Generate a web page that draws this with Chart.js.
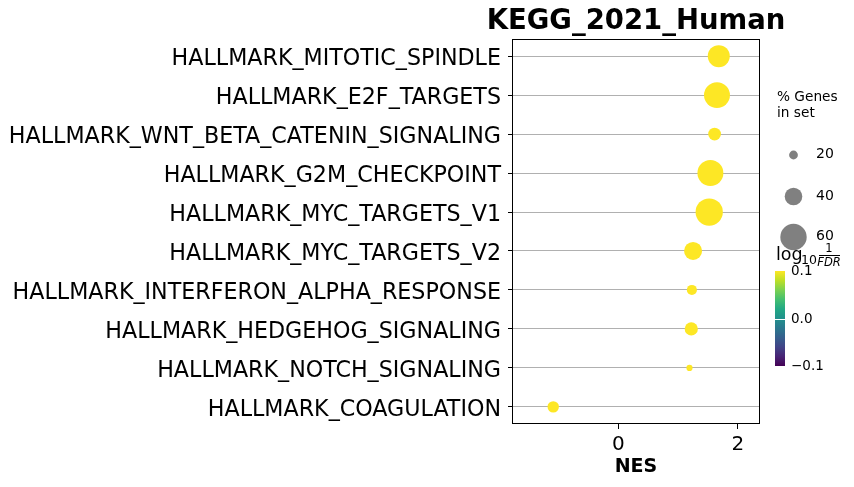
<!DOCTYPE html>
<html>
<head>
<meta charset="utf-8">
<script src="https://cdn.jsdelivr.net/npm/chart.js@4/dist/chart.umd.min.js"></script>
<style>
html,body{margin:0;padding:0;background:#fff;}
#wrap{width:854px;height:487px;position:relative;}
</style>
</head>
<body>
<div id="wrap"><canvas id="c" width="854" height="487"></canvas></div>
<script>
const chartTitle = "KEGG_2021_Human";
const categories = [
  "HALLMARK_MITOTIC_SPINDLE",
  "HALLMARK_E2F_TARGETS",
  "HALLMARK_WNT_BETA_CATENIN_SIGNALING",
  "HALLMARK_G2M_CHECKPOINT",
  "HALLMARK_MYC_TARGETS_V1",
  "HALLMARK_MYC_TARGETS_V2",
  "HALLMARK_INTERFERON_ALPHA_RESPONSE",
  "HALLMARK_HEDGEHOG_SIGNALING",
  "HALLMARK_NOTCH_SIGNALING",
  "HALLMARK_COAGULATION"
];
const nes = [1.68, 1.65, 1.61, 1.54, 1.52, 1.25, 1.23, 1.22, 1.19, -1.09];
const genePct = [50, 59, 29, 59, 62, 41, 23, 30, 14, 26];
const xTicks = [0, 2];
const sizeLegend = [20, 40, 60];
const cbarTicks = [0.1, 0.0, -0.1];

const FONT = "DejaVu Sans";
const radiusOf = p => 0.22 * p;
const viridis = ["#440154","#482475","#414487","#355f8d","#2a788e","#21918c","#22a884","#44bf70","#7ad151","#bddf26","#fde725"];

const extras = {
  id: "extras",
  afterDraw(chart) {
    const ctx = chart.ctx;
    const a = chart.chartArea;
    ctx.save();
    // border
    ctx.strokeStyle = "#000";
    ctx.lineWidth = 1;
    ctx.strokeRect(Math.round(a.left) + 0.5, Math.round(a.top) + 0.5, Math.round(a.right - a.left) - 1, Math.round(a.bottom - a.top) - 1);
    // title
    const cx = (a.left + a.right) / 2;
    ctx.fillStyle = "#000";
    ctx.textAlign = "center";
    ctx.textBaseline = "alphabetic";
    ctx.font = "bold 27.5px '" + FONT + "'";
    ctx.fillText(chartTitle, cx, 29);
    // x title
    ctx.font = "bold 19px '" + FONT + "'";
    ctx.textBaseline = "middle";
    ctx.fillText("NES", cx, 467);
    // size legend
    ctx.textAlign = "left";
    ctx.font = "13.7px '" + FONT + "'";
    ctx.fillText("% Genes", 777, 97);
    ctx.fillText("in set", 777, 113);
    const ly = [155, 196.5, 237];
    sizeLegend.forEach((p, i) => {
      ctx.beginPath();
      ctx.fillStyle = "#808080";
      ctx.arc(793.5, ly[i], radiusOf(p), 0, Math.PI * 2);
      ctx.fill();
      ctx.fillStyle = "#000";
      ctx.font = "14px '" + FONT + "'";
      ctx.fillText(String(p), 816, ly[i] - 0.5);
    });
    // colorbar
    const cbTop = 271, cbBot = 366, cbL = 775, cbR = 785;
    const g = ctx.createLinearGradient(0, cbBot, 0, cbTop);
    viridis.forEach((c, i) => g.addColorStop(i / (viridis.length - 1), c));
    ctx.fillStyle = g;
    ctx.fillRect(cbL, cbTop, cbR - cbL, cbBot - cbTop);
    const yOf = v => cbBot - (v + 0.1) / 0.2 * (cbBot - cbTop);
    ctx.strokeStyle = "#fff";
    ctx.beginPath();
    ctx.moveTo(cbL, Math.round(yOf(0)) + 0.5);
    ctx.lineTo(cbR, Math.round(yOf(0)) + 0.5);
    ctx.stroke();
    ctx.fillStyle = "#000";
    ctx.font = "13.5px '" + FONT + "'";
    cbarTicks.forEach(v => {
      const t = v === 0 ? "0.0" : (v < 0 ? "\u2212" + Math.abs(v).toFixed(1) : v.toFixed(1));
      ctx.fillText(t, 791, yOf(v) + 0.5);
    });
    // colorbar title log10 1/FDR
    ctx.textBaseline = "alphabetic";
    ctx.font = "17.5px '" + FONT + "'";
    ctx.fillText("log", 776, 260);
    ctx.font = "12.5px '" + FONT + "'";
    ctx.fillText("10", 801, 264);
    ctx.textAlign = "center";
    ctx.font = "11.5px '" + FONT + "'";
    ctx.fillText("1", 829, 252);
    ctx.fillRect(819, 255, 21, 1);
    ctx.font = "italic 11.5px '" + FONT + "'";
    ctx.fillText("FDR", 829, 266);
    ctx.restore();
  }
};

new Chart(document.getElementById("c"), {
  type: "bubble",
  data: {
    datasets: [{
      data: categories.map((c, i) => ({ x: nes[i], y: i, r: radiusOf(genePct[i]) })),
      backgroundColor: "#fde725",
      borderWidth: 0,
      hoverBorderWidth: 0
    }]
  },
  options: {
    responsive: false,
    animation: false,
    events: [],
    layout: { padding: { left: 0, right: 94, top: 39, bottom: 0 } },
    plugins: { legend: { display: false }, tooltip: { enabled: false }, title: { display: false } },
    scales: {
      x: {
        type: "linear",
        min: -1.78,
        max: 2.37,
        afterBuildTicks: s => { s.ticks = xTicks.map(v => ({ value: v })); },
        afterFit: s => { s.height = 63; },
        grid: { drawOnChartArea: false, drawTicks: true, tickLength: 5, tickColor: "#000" },
        border: { display: false },
        ticks: { color: "#000", font: { family: FONT, size: 20 }, padding: 4, callback: v => String(v) }
      },
      y: {
        type: "linear",
        reverse: true,
        min: -0.44,
        max: 9.44,
        afterBuildTicks: s => { s.ticks = categories.map((c, i) => ({ value: i })); },
        afterFit: s => { s.width = 512; },
        grid: { color: "#b0b0b0", lineWidth: 1, drawTicks: true, tickLength: 4, tickColor: "#000" },
        border: { display: false },
        ticks: { color: "#000", autoSkip: false, font: { family: FONT, size: 22.2 }, padding: 7, labelOffset: 3, callback: v => categories[v] }
      }
    }
  },
  plugins: [extras]
});
</script>
</body>
</html>
